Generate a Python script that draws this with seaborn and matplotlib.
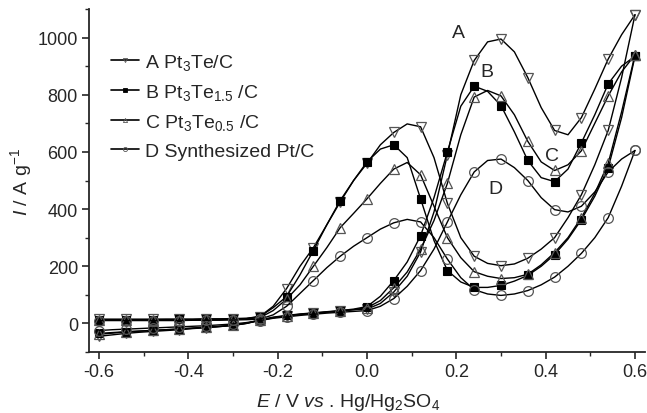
import numpy as np
import pandas as pd
import matplotlib
matplotlib.use("Agg")
import matplotlib.pyplot as plt
from matplotlib.lines import Line2D
from matplotlib.ticker import MultipleLocator
import seaborn as sns

# ---------------- data ----------------
E = [-0.60, -0.57, -0.54, -0.51, -0.48, -0.45, -0.42, -0.39, -0.36, -0.33,
     -0.30, -0.27, -0.24, -0.21, -0.18, -0.15, -0.12, -0.09, -0.06, -0.03,
     0.00, 0.03, 0.06, 0.09, 0.12, 0.15, 0.18, 0.21, 0.24, 0.27,
     0.30, 0.33, 0.36, 0.39, 0.42, 0.45, 0.48, 0.51, 0.54, 0.57, 0.60]

# forward (positive-going) scans, listed along E
A_fwd = [-45, -40, -35, -31, -28, -25, -22, -18, -15, -11,
         -7, 0, 10, 20, 27, 32, 36, 40, 44, 48,
         50, 70, 110, 165, 250, 390, 590, 800, 920, 985,
         995, 950, 860, 755, 675, 660, 720, 820, 925, 1010, 1080]
B_fwd = [-35, -32, -29, -27, -25, -22, -20, -17, -14, -11,
         -7, 0, 12, 22, 28, 33, 37, 41, 45, 50,
         59, 95, 150, 215, 307, 440, 600, 760, 830, 812,
         762, 670, 570, 510, 496, 540, 632, 730, 838, 900, 935]
C_fwd = [-38, -34, -30, -27, -24, -22, -19, -16, -13, -10,
         -6, 1, 11, 20, 26, 31, 35, 39, 43, 48,
         55, 80, 125, 180, 260, 360, 490, 660, 792, 815,
         796, 730, 637, 565, 535, 555, 604, 700, 796, 880, 940]
D_fwd = [-25, -22, -20, -18, -16, -14, -12, -10, -8, -5,
         -2, 3, 10, 18, 23, 28, 32, 36, 39, 42,
         45, 60, 87, 130, 185, 260, 355, 450, 530, 570,
         575, 545, 500, 440, 398, 390, 410, 460, 530, 575, 605]

# reverse (negative-going) scans, listed along E (plotted from 0.6 back to -0.6)
A_rev = [15, 15, 15, 15, 15, 15, 15, 15, 16, 16, 17, 18,
         24, 60, 122, 200, 265, 345, 425, 500, 560, 625,
         668, 698, 688, 580, 420, 300, 235, 210, 202, 208,
         228, 260, 300, 370, 450, 555, 675, 860, 1080]
B_rev = [13, 13, 13, 13, 13, 14, 14, 14, 15, 15, 16, 17,
         24, 55, 94, 170, 255, 345, 430, 500, 565, 610,
         625, 580, 436, 290, 185, 145, 126, 126, 133, 148,
         168, 200, 241, 295, 363, 445, 545, 720, 935]
C_rev = [12, 12, 12, 12, 13, 13, 13, 13, 14, 14, 15, 16,
         20, 45, 85, 135, 200, 265, 335, 385, 436, 490,
         540, 563, 520, 410, 300, 230, 181, 165, 157, 160,
         172, 205, 248, 300, 370, 455, 560, 740, 940]
D_rev = [10, 10, 10, 10, 10, 10, 10, 11, 11, 11, 12, 13,
         15, 30, 60, 105, 150, 195, 235, 270, 300, 330,
         352, 364, 355, 300, 225, 160, 118, 103, 98, 103,
         115, 135, 162, 200, 245, 300, 370, 480, 605]

labels = ["A Pt$_3$Te/C", "B Pt$_3$Te$_{1.5}$ /C",
          "C Pt$_3$Te$_{0.5}$ /C", "D Synthesized Pt/C"]
curve_letters = ["A", "B", "C", "D"]
letter_pos = [(0.204, 1019), (0.269, 883), (0.414, 586), (0.287, 471)]

# ---------------- style ----------------
sns.set_style("ticks")
plt.rcParams["font.family"] = ["Liberation Sans", "DejaVu Sans"]
plt.rcParams["mathtext.fontset"] = "custom"
plt.rcParams["mathtext.rm"] = "Liberation Sans"
plt.rcParams["mathtext.it"] = "Liberation Sans:italic"
plt.rcParams["mathtext.bf"] = "Liberation Sans:bold"

FS = 13
FL = 14
fig = plt.figure(figsize=(6.47, 4.14), dpi=100)
ax = fig.add_axes([89 / 647, 1 - 353 / 414, (645 - 89) / 647, (353 - 10) / 414])

styles = [
    dict(marker="v", ms=7.5, mfc="none", mec="#555555", mew=0.9),
    dict(marker="s", ms=6.0, mfc="black", mec="black", mew=0.8),
    dict(marker="^", ms=7.5, mfc="none", mec="#555555", mew=0.9),
    dict(marker="o", ms=7.0, mfc="none", mec="#555555", mew=0.9),
]

fwds = [A_fwd, B_fwd, C_fwd, D_fwd]
revs = [A_rev, B_rev, C_rev, D_rev]
for fwd, rev, st in zip(fwds, revs, styles):
    df_f = pd.DataFrame({"E": E, "I": fwd})
    df_r = pd.DataFrame({"E": E[::-1], "I": rev[::-1]})
    for df in (df_f, df_r):
        sns.lineplot(data=df, x="E", y="I", sort=False, estimator=None,
                     color="black", lw=1.0, markevery=2, ax=ax, **st)

for letter, (lx, ly) in zip(curve_letters, letter_pos):
    ax.text(lx, ly, letter, fontsize=FL, ha="center", va="center")

ax.set_xlim(-0.6224, 0.6224)
ax.set_ylim(-100, 1100)
ax.xaxis.set_minor_locator(MultipleLocator(0.1))
ax.yaxis.set_minor_locator(MultipleLocator(100))
ax.set_yticks([0, 200, 400, 600, 800, 1000])
ax.set_xticks([-0.6, -0.4, -0.2, 0.0, 0.2, 0.4, 0.6])
ax.set_xticklabels(["-0.6", "-0.4", "-0.2", "0.0", "0.2", "0.4", "0.6"])
ax.tick_params(which="major", direction="out", length=5, width=1.2, labelsize=FS, pad=3)
ax.tick_params(which="minor", direction="out", length=3, width=1.0)
for s in ("top", "right"):
    ax.spines[s].set_visible(False)
for s in ("left", "bottom"):
    ax.spines[s].set_linewidth(1.3)

ax.set_xlabel(r"$E$ / V $vs$ . Hg/Hg$_2$SO$_4$", fontsize=FL)
ax.xaxis.set_label_coords((348 - 89) / 556, -(392 - 353) / 343)
ax.set_ylabel(r"$I$ / A g$^{-1}$", fontsize=FL)
ax.yaxis.set_label_coords(-(89 - 34) / 556, (353 - 182) / 343)

handles = [Line2D([], [], color="black", lw=1.2, marker=st["marker"], ms=3,
                  mfc=st["mfc"], mec=st["mec"], mew=0.6) for st in styles]
ax.legend(handles, labels, loc="upper left",
          bbox_to_anchor=((111 - 89) / 556, (353 - 53) / 343),
          frameon=False, fontsize=FL, handlelength=1.45, handletextpad=0.3,
          labelspacing=0.52, borderpad=0, borderaxespad=0)

fig.savefig("out.png", dpi=100)
